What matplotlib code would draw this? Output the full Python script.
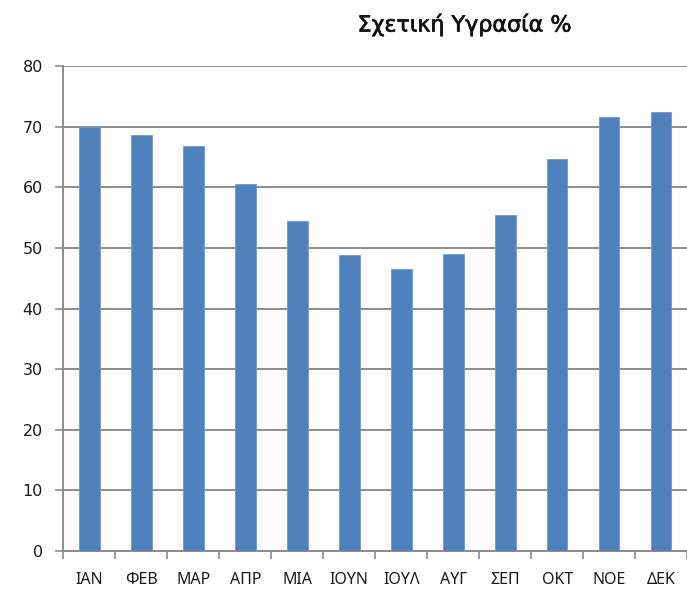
import matplotlib
matplotlib.use("Agg")
import matplotlib.pyplot as plt
import matplotlib.patheffects as pe
import numpy as np

months = ["ΙΑΝ", "ΦΕΒ", "ΜΑΡ", "ΑΠΡ", "ΜΙΑ", "ΙΟΥΝ", "ΙΟΥΛ", "ΑΥΓ", "ΣΕΠ", "ΟΚΤ", "ΝΟΕ", "ΔΕΚ"]
humidity = [70.0, 68.7, 66.8, 60.5, 54.4, 48.8, 46.5, 49.0, 55.4, 64.6, 71.6, 72.4]
yticks = [0, 10, 20, 30, 40, 50, 60, 70, 80]
title = "Σχετική Υγρασία %"

plt.rcParams['font.family'] = ['DejaVu Sans']

fig = plt.figure(figsize=(6.87, 5.90), dpi=100)
ax = fig.add_axes([0.0924, 0.066, 1.0 - 0.0924, 0.888 - 0.066])

x = np.arange(len(months))
ax.bar(x, humidity, width=0.4, color="#4F81BD", edgecolor="#6E98CC", linewidth=0.6, zorder=3)

ax.set_ylim(0, 80)
ax.set_xlim(-0.5, 11.31)
ax.set_yticks(yticks)
ax.set_yticklabels([str(v) for v in yticks], fontsize=11.5, color="#1A1A1A")
ax.yaxis.grid(True, color="#8C8C8C", linewidth=1.4, zorder=0)
ax.set_axisbelow(True)

# category labels at centers, tick marks at boundaries
ax.set_xticks(x)
ax.set_xticklabels(months, fontsize=11.5, color="#1A1A1A", family=['Noto Sans', 'DejaVu Sans'])
ax.tick_params(axis='x', which='major', length=0, pad=15)
ax.set_xticks(np.arange(-0.5, 11.6, 1.0), minor=True)
ax.tick_params(axis='x', which='minor', length=5.5, width=1.2, color="#8C8C8C", direction='out')
ax.tick_params(axis='y', length=5.8, width=1.2, color="#8C8C8C", direction='out', pad=9)

for s in ['top', 'right']:
    ax.spines[s].set_visible(False)
for s in ['left', 'bottom']:
    ax.spines[s].set_color("#8C8C8C")
    ax.spines[s].set_linewidth(1.4)

fig.text(0.677, 0.958, title, ha='center', va='center', fontsize=16, fontweight='normal',
         color="#111111", family=['DejaVu Sans'],
         path_effects=[pe.withStroke(linewidth=0.5, foreground="#111111")])

fig.savefig("out.png", dpi=100, facecolor="white")
